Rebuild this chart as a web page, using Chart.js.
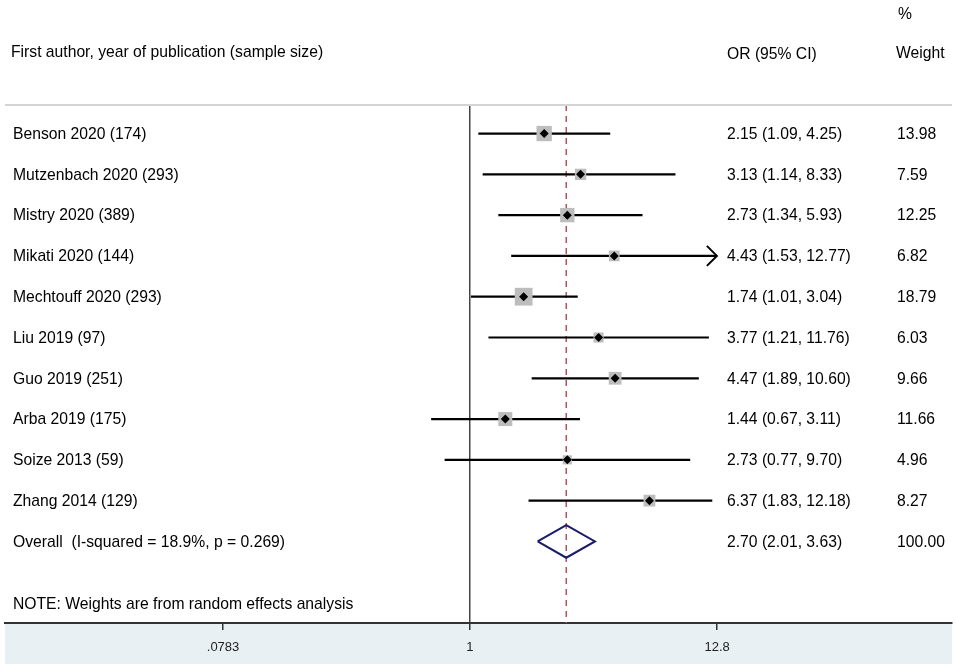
<!DOCTYPE html>
<html>
<head>
<meta charset="utf-8">
<script src="https://cdn.jsdelivr.net/npm/chart.js@4.4.1/dist/chart.umd.min.js"></script>
<style>
  html, body { margin: 0; padding: 0; background: #fff; }
  canvas { display: block; }
</style>
</head>
<body>
<canvas id="forestChart" width="957" height="670"></canvas>
<script>
// Study data
const studyLabels = [
    'Benson 2020 (174)', 'Mutzenbach 2020 (293)', 'Mistry 2020 (389)', 'Mikati 2020 (144)',
    'Mechtouff 2020 (293)', 'Liu 2019 (97)', 'Guo 2019 (251)', 'Arba 2019 (175)',
    'Soize 2013 (59)', 'Zhang 2014 (129)'
];
const oddsRatios = [2.15, 3.13, 2.73, 4.43, 1.74, 3.77, 4.47, 1.44, 2.73, 6.37];
const ciLower = [1.09, 1.14, 1.34, 1.53, 1.01, 1.21, 1.89, 0.67, 0.77, 1.83];
const ciUpper = [4.25, 8.33, 5.93, 12.77, 3.04, 11.76, 10.60, 3.11, 9.70, 12.18];
const weights = [13.98, 7.59, 12.25, 6.82, 18.79, 6.03, 9.66, 11.66, 4.96, 8.27];
const ciArrow = [false, false, false, true, false, false, false, false, false, false];

// Pooled estimate
const overallLabel = 'Overall  (I-squared = 18.9%, p = 0.269)';
const overallOR = 2.70;
const overallLower = 2.01;
const overallUpper = 3.63;
const overallWeight = 100.00;

// Axis
const xTickValues = [0.0783, 1, 12.8];
const xTickLabels = ['.0783', '1', '12.8'];

const FONT = '"Liberation Sans", Arial, sans-serif';
const overallRow = studyLabels.length;
const yMin = -0.7, yMax = 12;

const ciDatasets = studyLabels.map((s, i) => ({
    data: [{ x: ciLower[i], y: i }, { x: ciUpper[i], y: i }],
    showLine: true,
    borderColor: '#000',
    borderWidth: 2.2,
    pointRadius: 0,
    order: 2
}));

const forestText = {
    id: 'forestText',
    beforeDraw(chart) {
        const ctx = chart.ctx;
        const xs = chart.scales.x;
        ctx.save();
        ctx.fillStyle = '#e9f0f3';
        ctx.fillRect(xs.left, xs.top, xs.right - xs.left, xs.bottom - xs.top);
        ctx.restore();
    },
    afterDraw(chart) {
        const ctx = chart.ctx;
        const x = chart.scales.x;
        const y = chart.scales.y;
        const area = chart.chartArea;
        ctx.save();

        // header rule
        ctx.strokeStyle = '#d4d4d4';
        ctx.lineWidth = 2;
        ctx.beginPath();
        ctx.moveTo(area.left, area.top);
        ctx.lineTo(area.right, area.top);
        ctx.stroke();

        // arrows for clipped intervals
        ctx.strokeStyle = '#000';
        ctx.lineWidth = 2;
        ciArrow.forEach((a, i) => {
            if (!a) return;
            const px = x.getPixelForValue(ciUpper[i]);
            const py = y.getPixelForValue(i);
            ctx.beginPath();
            ctx.moveTo(px - 10, py - 10);
            ctx.lineTo(px, py);
            ctx.lineTo(px - 10, py + 10);
            ctx.stroke();
        });

        ctx.fillStyle = '#000';
        ctx.font = '15.7px ' + FONT;
        ctx.textBaseline = 'middle';
        ctx.fillText('First author, year of publication (sample size)', 11, 53);
        ctx.fillText('OR (95% CI)', 727, 55);
        ctx.fillText('%', 898, 15);
        ctx.fillText('Weight', 896, 54);

        studyLabels.forEach((s, i) => {
            const py = y.getPixelForValue(i) + 1;
            ctx.fillText(s, 13, py);
            ctx.fillText(oddsRatios[i].toFixed(2) + ' (' + ciLower[i].toFixed(2) + ', ' + ciUpper[i].toFixed(2) + ')', 727, py);
            ctx.fillText(weights[i].toFixed(2), 897, py);
        });
        const oy = y.getPixelForValue(overallRow) + 1;
        ctx.fillText(overallLabel, 13, oy);
        ctx.fillText(overallOR.toFixed(2) + ' (' + overallLower.toFixed(2) + ', ' + overallUpper.toFixed(2) + ')', 727, oy);
        ctx.fillText(overallWeight.toFixed(2), 897, oy);

        ctx.fillText('NOTE: Weights are from random effects analysis', 13, 605);
        ctx.restore();
    }
};

new Chart(document.getElementById('forestChart'), {
    type: 'scatter',
    data: {
        datasets: [
            {
                data: oddsRatios.map((v, i) => ({ x: v, y: i })),
                pointStyle: 'rectRot',
                pointRadius: 4.5,
                backgroundColor: '#000',
                borderWidth: 0,
                order: 0
            },
            {
                data: oddsRatios.map((v, i) => ({ x: v, y: i })),
                pointStyle: 'rect',
                pointRadius: weights.map(w => 4.1 * Math.sqrt(w) / Math.SQRT2),
                backgroundColor: '#bdbdbd',
                borderWidth: 0,
                order: 1
            },
            ...ciDatasets,
            {
                data: [
                    { x: overallLower, y: overallRow },
                    { x: overallOR, y: overallRow - 0.4 },
                    { x: overallUpper, y: overallRow },
                    { x: overallOR, y: overallRow + 0.4 },
                    { x: overallLower, y: overallRow }
                ],
                showLine: true,
                borderColor: '#1b1b6b',
                borderWidth: 2,
                pointRadius: 0,
                order: 2
            },
            {
                data: [{ x: overallOR, y: yMin }, { x: overallOR, y: yMax }],
                showLine: true,
                borderColor: '#b5545c',
                borderWidth: 1.5,
                borderDash: [6, 5],
                pointRadius: 0,
                order: 3
            }
        ]
    },
    options: {
        responsive: false,
        animation: false,
        events: [],
        layout: { autoPadding: false, padding: { left: 5, right: 5, top: 105, bottom: 6 } },
        plugins: {
            legend: { display: false },
            tooltip: { enabled: false }
        },
        scales: {
            x: {
                type: 'logarithmic',
                min: 0.00826,
                max: 144.4,
                bounds: 'data',
                afterBuildTicks: s => { s.ticks = xTickValues.map(v => ({ value: v })); },
                afterFit: s => { s.height = 41; s.paddingLeft = 0; s.paddingRight = 0; },
                border: { color: '#333', width: 2 },
                grid: {
                    color: c => (c.tick && c.tick.value === 1) ? '#444' : 'rgba(0,0,0,0)',
                    lineWidth: 1.5,
                    tickColor: '#333',
                    tickLength: 7,
                    tickWidth: 1.5
                },
                ticks: {
                    autoSkip: false,
                    maxRotation: 0,
                    padding: 10,
                    color: '#222',
                    font: { family: FONT, size: 13 },
                    callback: (v, i) => xTickLabels[i]
                }
            },
            y: {
                type: 'linear',
                reverse: true,
                min: yMin,
                max: yMax,
                display: false
            }
        }
    },
    plugins: [forestText]
});
</script>
</body>
</html>
